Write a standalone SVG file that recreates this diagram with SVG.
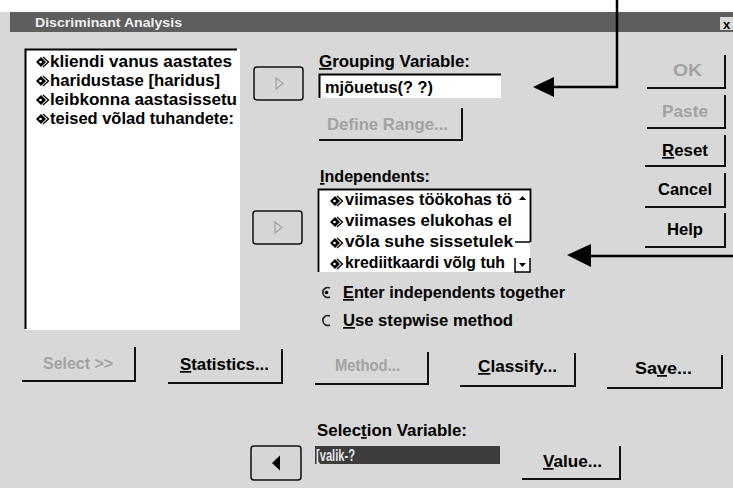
<svg xmlns="http://www.w3.org/2000/svg" width="733" height="488" viewBox="0 0 733 488">
<style>
.t{font-family:"Liberation Sans",Arial,sans-serif;font-weight:bold;font-size:17px;fill:#000}
.dis{fill:#a2a2a2}
.btn{fill:none;stroke:#111;stroke-width:2}
.sq{fill:#d6d6d6;stroke:#111;stroke-width:1.5}
.conn{stroke:#000;stroke-width:2.5;fill:none}
.u{text-decoration:underline}
</style>
<defs>
<symbol id="var" viewBox="0 0 15 12">
<path d="M1,6 L6,1 L11,6 L6,11 Z" fill="#000"/>
<path d="M8,1 L13.5,6 L8,11" fill="none" stroke="#000" stroke-width="1.3"/>
<circle cx="5.5" cy="6" r="1.3" fill="#fff"/>
</symbol>
</defs>
<rect x="0" y="0" width="733" height="488" fill="#fff"/>
<rect x="0" y="12" width="733" height="476" fill="#d8d8d8"/>
<g id="titlebar">
<rect x="10" y="12" width="723" height="20" fill="#5e5e5e"/>
<text class="t" x="35" y="27" font-size="13" style="fill:#f0f0f0;font-size:13px" textLength="147" lengthAdjust="spacingAndGlyphs">Discriminant Analysis</text>
<rect x="720" y="17" width="13" height="13" fill="#d8d8d8"/>
<text class="t" x="723" y="29" style="font-size:13px">x</text>
</g>
<g id="source-list">
<rect x="25" y="49" width="215" height="281" fill="#fff"/>
<path d="M25.5,329 V49.5 H237" fill="none" stroke="#000" stroke-width="2"/>
<use href="#var" x="35" y="56" width="15" height="12"/>
<text class="t" x="50" y="67" textLength="182" lengthAdjust="spacingAndGlyphs">kliendi vanus aastates</text>
<use href="#var" x="35" y="75" width="15" height="12"/>
<text class="t" x="50" y="86" textLength="170" lengthAdjust="spacingAndGlyphs">haridustase [haridus]</text>
<use href="#var" x="35" y="94" width="15" height="12"/>
<text class="t" x="50" y="105" textLength="187" lengthAdjust="spacingAndGlyphs">leibkonna aastasissetu</text>
<use href="#var" x="35" y="113" width="15" height="12"/>
<text class="t" x="50" y="124" textLength="184" lengthAdjust="spacingAndGlyphs">teised võlad tuhandete:</text>
</g>
<g id="move-grouping">
<rect class="sq" x="254" y="67" width="49" height="33" rx="3"/>
<path d="M276,78 L283,83.5 L276,89 Z" fill="none" stroke="#a2a2a2" stroke-width="1.2"/>
</g>
<g id="grouping-variable">
<text class="t" x="319" y="67" textLength="151" lengthAdjust="spacingAndGlyphs"><tspan class="u">G</tspan>rouping Variable:</text>
<rect x="319" y="74" width="182" height="24" fill="#fff"/>
<path d="M319.5,98 V74.5 H501" fill="none" stroke="#000" stroke-width="2"/>
<text class="t" x="325" y="93" textLength="108" lengthAdjust="spacingAndGlyphs">mjõuetus(? ?)</text>
</g>
<g id="define-range">
<polyline class="btn" points="319,140 462,140 462,108"/>
<text class="t dis" x="327" y="130" textLength="121" lengthAdjust="spacingAndGlyphs">Define Range...</text>
</g>
<g id="independents">
<text class="t" x="320" y="182" textLength="110" lengthAdjust="spacingAndGlyphs"><tspan class="u">I</tspan>ndependents:</text>
<rect x="318" y="189" width="212" height="83" fill="#fff"/>
<path d="M318.5,272 V189.5 H530.5 V242" fill="none" stroke="#000" stroke-width="1.8"/>
<path d="M515,242 H530 M515,258 V272 H530 V258" fill="none" stroke="#000" stroke-width="1.5"/>
<path d="M519,200 L522.5,196 L526,200 Z" fill="#000"/>
<path d="M519,263 L522.5,267 L526,263 Z" fill="#000"/>
<use href="#var" x="329" y="195" width="15" height="12"/>
<text class="t" x="345" y="205" textLength="167" lengthAdjust="spacingAndGlyphs">viimases töökohas tö</text>
<use href="#var" x="329" y="216" width="15" height="12"/>
<text class="t" x="345" y="226" textLength="167" lengthAdjust="spacingAndGlyphs">viimases elukohas el</text>
<use href="#var" x="329" y="237" width="15" height="12"/>
<text class="t" x="345" y="247" textLength="168" lengthAdjust="spacingAndGlyphs">võla suhe sissetulek</text>
<use href="#var" x="329" y="258" width="15" height="12"/>
<text class="t" x="345" y="268" textLength="160" lengthAdjust="spacingAndGlyphs">krediitkaardi võlg tuh</text>
</g>
<g id="move-independents">
<rect class="sq" x="253" y="211" width="49" height="33" rx="3"/>
<path d="M275,222 L282,227.5 L275,233 Z" fill="none" stroke="#a2a2a2" stroke-width="1.2"/>
</g>
<g id="radio-together">
<path d="M330,288 A5,5 0 1 0 330,297" fill="none" stroke="#222" stroke-width="1.6"/>
<circle cx="326.5" cy="292.5" r="1.8" fill="#000"/>
<text class="t" x="343" y="298" textLength="222" lengthAdjust="spacingAndGlyphs"><tspan class="u">E</tspan>nter independents together</text>
</g>
<g id="radio-stepwise">
<path d="M330,316 A5,5 0 1 0 330,325" fill="none" stroke="#222" stroke-width="1.6"/>
<text class="t" x="343" y="326" textLength="170" lengthAdjust="spacingAndGlyphs"><tspan class="u">U</tspan>se stepwise method</text>
</g>
<g id="btn-ok">
<polyline class="btn" points="647,88 725,88 725,55"/>
<text class="t dis" x="673" y="76" textLength="29" lengthAdjust="spacingAndGlyphs">OK</text>
</g>
<g id="btn-paste">
<polyline class="btn" points="647,128 725,128 725,95"/>
<text class="t dis" x="662" y="117" textLength="46" lengthAdjust="spacingAndGlyphs">Paste</text>
</g>
<g id="btn-reset">
<polyline class="btn" points="645,166 725,166 725,135"/>
<text class="t" x="662" y="156" textLength="46" lengthAdjust="spacingAndGlyphs"><tspan class="u">R</tspan>eset</text>
</g>
<g id="btn-cancel">
<polyline class="btn" points="645,207 725,207 725,173"/>
<text class="t" x="658" y="195" textLength="54" lengthAdjust="spacingAndGlyphs">Cancel</text>
</g>
<g id="btn-help">
<polyline class="btn" points="645,247 725,247 725,213"/>
<text class="t" x="667" y="235" textLength="36" lengthAdjust="spacingAndGlyphs">Help</text>
</g>
<g id="btn-select">
<polyline class="btn" points="22,381 135,381 135,347"/>
<text class="t dis" x="43" y="369" textLength="70" lengthAdjust="spacingAndGlyphs">Select &gt;&gt;</text>
</g>
<g id="btn-statistics">
<polyline class="btn" points="168,383 282,383 282,349"/>
<text class="t" x="180" y="370" textLength="89" lengthAdjust="spacingAndGlyphs"><tspan class="u">S</tspan>tatistics...</text>
</g>
<g id="btn-method">
<polyline class="btn" points="315,384 428,384 428,352"/>
<text class="t dis" x="335" y="371" textLength="65" lengthAdjust="spacingAndGlyphs">Method...</text>
</g>
<g id="btn-classify">
<polyline class="btn" points="460,386 575,386 575,353"/>
<text class="t" x="478" y="372" textLength="79" lengthAdjust="spacingAndGlyphs"><tspan class="u">C</tspan>lassify...</text>
</g>
<g id="btn-save">
<polyline class="btn" points="607,388 722,388 722,355"/>
<text class="t" x="635" y="374" textLength="57" lengthAdjust="spacingAndGlyphs">Sa<tspan class="u">v</tspan>e...</text>
</g>
<g id="selection-variable">
<text class="t" x="317" y="436" textLength="150" lengthAdjust="spacingAndGlyphs">Selec<tspan class="u">t</tspan>ion Variable:</text>
<rect x="315" y="446" width="185" height="18" fill="#3c3c3c"/>
<text class="t" x="316" y="461" style="fill:#e6e6e6" textLength="39" lengthAdjust="spacingAndGlyphs">[valik-?</text>
</g>
<g id="move-selection">
<rect class="sq" x="251" y="446" width="50" height="34" rx="3"/>
<path d="M280,455.5 L272,463 L280,470.5 Z" fill="#000"/>
</g>
<g id="btn-value">
<polyline class="btn" points="522,479 620,479 620,446"/>
<text class="t" x="543" y="467" textLength="59" lengthAdjust="spacingAndGlyphs"><tspan class="u">V</tspan>alue...</text>
</g>
<g id="connectors">
<path class="conn" d="M617,0 V87 H550"/>
<polygon points="533,87 554,77 554,97" fill="#000"/>
<path class="conn" d="M733,256 H588"/>
<polygon points="567,255 591,244 591,267" fill="#000"/>
</g>
</svg>
